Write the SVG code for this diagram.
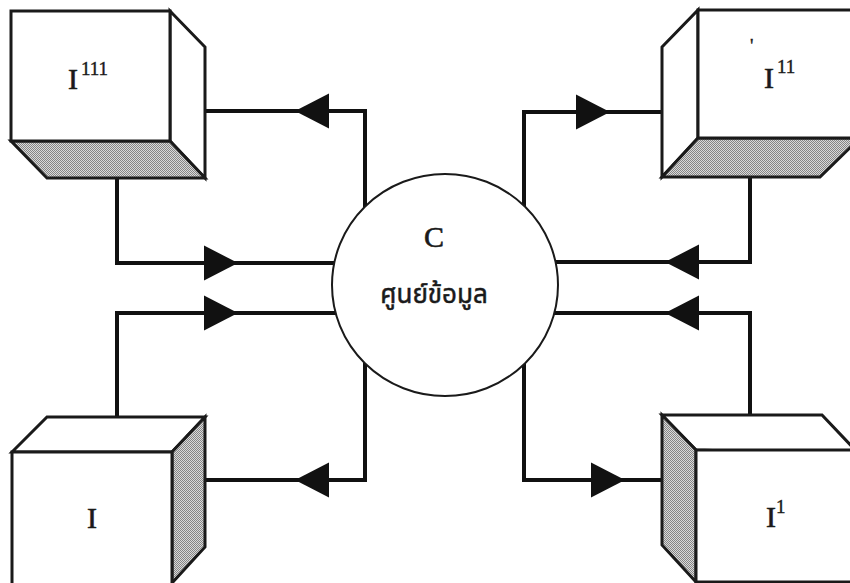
<svg xmlns="http://www.w3.org/2000/svg" width="850" height="583" viewBox="0 0 850 583">
<defs>
<pattern id="dots" width="2" height="2" patternUnits="userSpaceOnUse">
<rect width="2" height="2" fill="#dadada"/>
<rect width="1" height="1" fill="#858585"/>
<rect x="1" y="1" width="1" height="1" fill="#858585"/>
</pattern>
<path id="ah" d="M0,0 L-34,-17.5 L-34,17.5 Z" fill="#111"/>
</defs>
<style>
.face{fill:#fff;stroke:#1a1a1a;stroke-width:3;stroke-linejoin:miter}
.shade{fill:url(#dots);stroke:#1a1a1a;stroke-width:3;stroke-linejoin:miter}
.conn{fill:none;stroke:#111;stroke-width:4;stroke-linejoin:miter}
.lbl{font-family:"Liberation Serif","Times New Roman",serif;fill:#1a1a1a;stroke:#1a1a1a;stroke-width:0.6}
.big{font-size:30px}
.sup{font-size:19px;stroke-width:0.4}
.thai{font-family:"Noto Sans Thai","Noto Sans Thai UI","Noto Sans","DejaVu Sans",sans-serif;font-size:26px;fill:#1a1a1a;stroke:#1a1a1a;stroke-width:0.5}
</style>
<rect width="850" height="583" fill="#fff"/>
<g id="connectors">
<path class="conn" d="M205,111 H365 V215"/>
<use href="#ah" transform="translate(295,111) rotate(180)"/>
<path class="conn" d="M117,178 V263 H345"/>
<use href="#ah" transform="translate(238,263)"/>
<path class="conn" d="M117,417 V313 H345"/>
<use href="#ah" transform="translate(238,313)"/>
<path class="conn" d="M205,480 H365 V360"/>
<use href="#ah" transform="translate(295,480) rotate(180)"/>
<path class="conn" d="M662,112 H524 V220"/>
<use href="#ah" transform="translate(610,112)"/>
<path class="conn" d="M750,177 V262 H545"/>
<use href="#ah" transform="translate(665,262) rotate(180)"/>
<path class="conn" d="M750,415 V313 H545"/>
<use href="#ah" transform="translate(665,313) rotate(180)"/>
<path class="conn" d="M662,480 H524 V360"/>
<use href="#ah" transform="translate(625,480)"/>
</g>
<g id="node-C">
<ellipse cx="445" cy="285" rx="113" ry="111" fill="#fff" stroke="#1a1a1a" stroke-width="2"/>
<text class="lbl big" x="434" y="247" text-anchor="middle">C</text>
<text class="thai" x="434" y="303" text-anchor="middle">ศูนย์ข้อมูล</text>
</g>
<g id="node-I111">
<polygon class="face" points="170,11 205,47 205,178 170,141"/>
<polygon class="shade" points="11,141 170,141 205,178 47,178"/>
<rect class="face" x="11" y="11" width="159" height="130"/>
<text class="lbl big" x="68" y="89">I</text>
<text class="lbl sup" x="81" y="75">111</text>
</g>
<g id="node-I11">
<polygon class="face" points="662,47 698,10 698,138 662,177"/>
<polygon class="shade" points="698,138 860,138 820,177 662,177"/>
<rect class="face" x="698" y="10" width="165" height="128"/>
<text class="lbl sup" x="750" y="52">'</text>
<text class="lbl big" x="764" y="88">I</text>
<text class="lbl sup" x="777" y="73">11</text>
</g>
<g id="node-I">
<polygon class="face" points="12,452 47,417 205,417 172,452"/>
<polygon class="shade" points="172,452 205,417 205,547 172,583"/>
<rect class="face" x="12" y="452" width="160" height="140"/>
<text class="lbl big" x="87" y="528">I</text>
</g>
<g id="node-I1">
<polygon class="face" points="662,415 822,415 860,455 696,450"/>
<polygon class="shade" points="662,415 696,450 696,582 662,545"/>
<rect class="face" x="696" y="450" width="165" height="132"/>
<text class="lbl big" x="766" y="527">I</text>
<text class="lbl sup" x="776" y="513">1</text>
</g>
</svg>
